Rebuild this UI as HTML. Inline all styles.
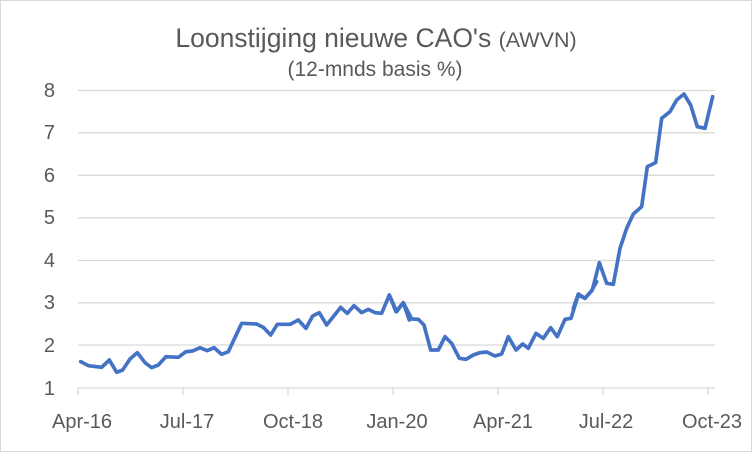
<!DOCTYPE html>
<html><head><style>body{margin:0;background:#fff}</style></head><body>
<svg width="752" height="452" xmlns="http://www.w3.org/2000/svg" font-family="Liberation Sans, sans-serif">
<rect x="0.5" y="0.5" width="751" height="451" fill="#fff" stroke="#d9d9d9"/>
<text x="376" y="47" text-anchor="middle" font-size="26.5" fill="#595959">Loonstijging nieuwe CAO's <tspan font-size="21.5">(AWVN)</tspan></text>
<text x="375" y="76" text-anchor="middle" font-size="21" fill="#595959">(12-mnds basis %)</text>
<g stroke="#d9d9d9" stroke-width="1.3">
<line x1="78" x2="715" y1="90.5" y2="90.5"/><line x1="78" x2="715" y1="132.8" y2="132.8"/>
<line x1="78" x2="715" y1="175.3" y2="175.3"/><line x1="78" x2="715" y1="217.8" y2="217.8"/>
<line x1="78" x2="715" y1="260.5" y2="260.5"/><line x1="78" x2="715" y1="302.8" y2="302.8"/>
<line x1="78" x2="715" y1="345" y2="345"/><line x1="78" x2="715" y1="388" y2="388"/>
<line x1="78" x2="78" y1="388" y2="395"/><line x1="183" x2="183" y1="388" y2="395"/>
<line x1="288" x2="288" y1="388" y2="395"/><line x1="393" x2="393" y1="388" y2="395"/>
<line x1="498" x2="498" y1="388" y2="395"/><line x1="603" x2="603" y1="388" y2="395"/>
<line x1="708" x2="708" y1="388" y2="395"/>
</g>
<g font-size="20" fill="#595959" text-anchor="end">
<text x="55" y="97">8</text><text x="55" y="139">7</text><text x="55" y="182">6</text><text x="55" y="224">5</text>
<text x="55" y="267">4</text><text x="55" y="309">3</text><text x="55" y="352">2</text><text x="55" y="395">1</text>
</g>
<g font-size="20" fill="#595959" text-anchor="middle">
<text x="82" y="428">Apr-16</text><text x="187" y="428">Jul-17</text><text x="293" y="428">Oct-18</text>
<text x="397" y="428">Jan-20</text><text x="503" y="428">Apr-21</text><text x="606" y="428">Jul-22</text><text x="712" y="428">Oct-23</text>
</g>
<g fill="none" stroke="#4472c4" stroke-width="11" stroke-linejoin="round" stroke-linecap="round">
<polyline transform="translate(60,280) scale(0.3333)" points="62,245 85,257 125,262 148,240 170,277 188,270 210,237 232,218 255,248 275,263 295,255 318,230 355,232 378,215 398,213 420,203 442,212 462,203 485,223 505,215 545,130 590,132 610,142 632,165 652,133 690,133 715,120 738,145 758,108 778,98 800,135 820,110 842,82 862,100 882,77 905,98 925,88 945,98 965,100 988,45 1008,95 1030,68 1048,120"/>
<polyline transform="translate(380,280) scale(0.3333)" points="28,45 50,95 70,68 95,117 115,118 132,135 152,210 175,210 195,170 215,190 238,235 258,238 280,225 300,218 320,216 345,228 365,222 385,170 408,210 428,192 445,205 468,160 490,175 512,143 532,170 555,118 573,115 595,45 615,55 635,32 650,5"/>
<polyline transform="translate(560,70) scale(0.3333)" points="40,715 55,672 75,685 97,660 118,578 140,640 160,643 180,535 200,475 220,432 245,410 262,290 287,278 305,145 330,125 350,90 372,72 392,105 412,170 435,175 458,80"/>
</g>
</svg>
</body></html>
